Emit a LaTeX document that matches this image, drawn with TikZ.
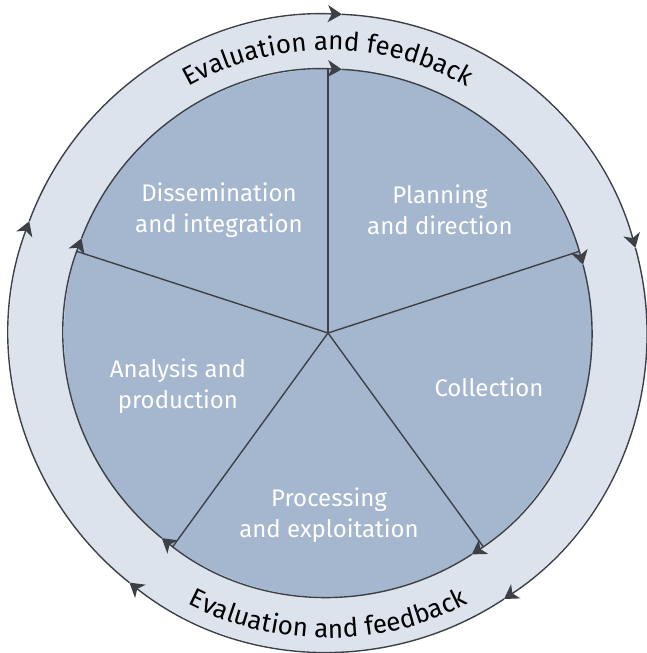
\documentclass[tikz,border=0pt]{standalone}
\usepackage{fontspec}
\setmainfont{Fira Sans}
\usetikzlibrary{arrows.meta, decorations.text}
\definecolor{ringblue}{HTML}{DCE3ED}
\definecolor{wedgeblue}{HTML}{A4B7CE}
\definecolor{rimgray}{HTML}{3D4147}

\begin{document}
\begin{tikzpicture}[x=1pt,y=1pt,
  rim/.style={draw=rimgray, line width=1.4pt},
  cyclearrow/.style={rim, -{Stealth[length=14pt,width=17pt,inset=4pt]}},
  stage/.style={text=white, align=center, font=\fontsize{24}{31}\selectfont},
  ringtext/.style={decorate, decoration={text along path, text align=center,
    text={|\fontsize{26}{26}\selectfont|Evaluation and feedback}}}]
  \useasboundingbox (-328,-320) rectangle (318,333);
  \coordinate (c) at (0,0);
  \fill[ringblue] (c) circle[radius=319];
  \fill[wedgeblue] (c) circle[radius=264];
  % spokes
  \foreach \a in {90,18,-54,-126,-198}
    \draw[rim] (c) -- (\a:264);
  % both rings turn clockwise
  \foreach \a in {90,18,-54,-126,-198} {
    \draw[cyclearrow] (\a-3:264) arc[start angle=\a-3, end angle=\a-75, radius=264];
    \draw[cyclearrow] (\a-2.5:319) arc[start angle=\a-2.5, end angle=\a-74.5, radius=319];
  }
  \path[ringtext] (150:283) arc[start angle=150, end angle=30, radius=283];
  \path[ringtext] (-150:305) arc[start angle=-150, end angle=-30, radius=305];
  \node[stage] (dissem) at (-109,123) {Dissemination\\and integration};
  \node[stage] (plan) at (112,123) {Planning\\and direction};
  \node[stage] (collect) at (161,-54) {Collection};
  \node[stage] (analysis) at (-150,-53) {Analysis and\\production};
  \node[stage] (process) at (1,-182) {Processing\\and exploitation};
\end{tikzpicture}
\end{document}
